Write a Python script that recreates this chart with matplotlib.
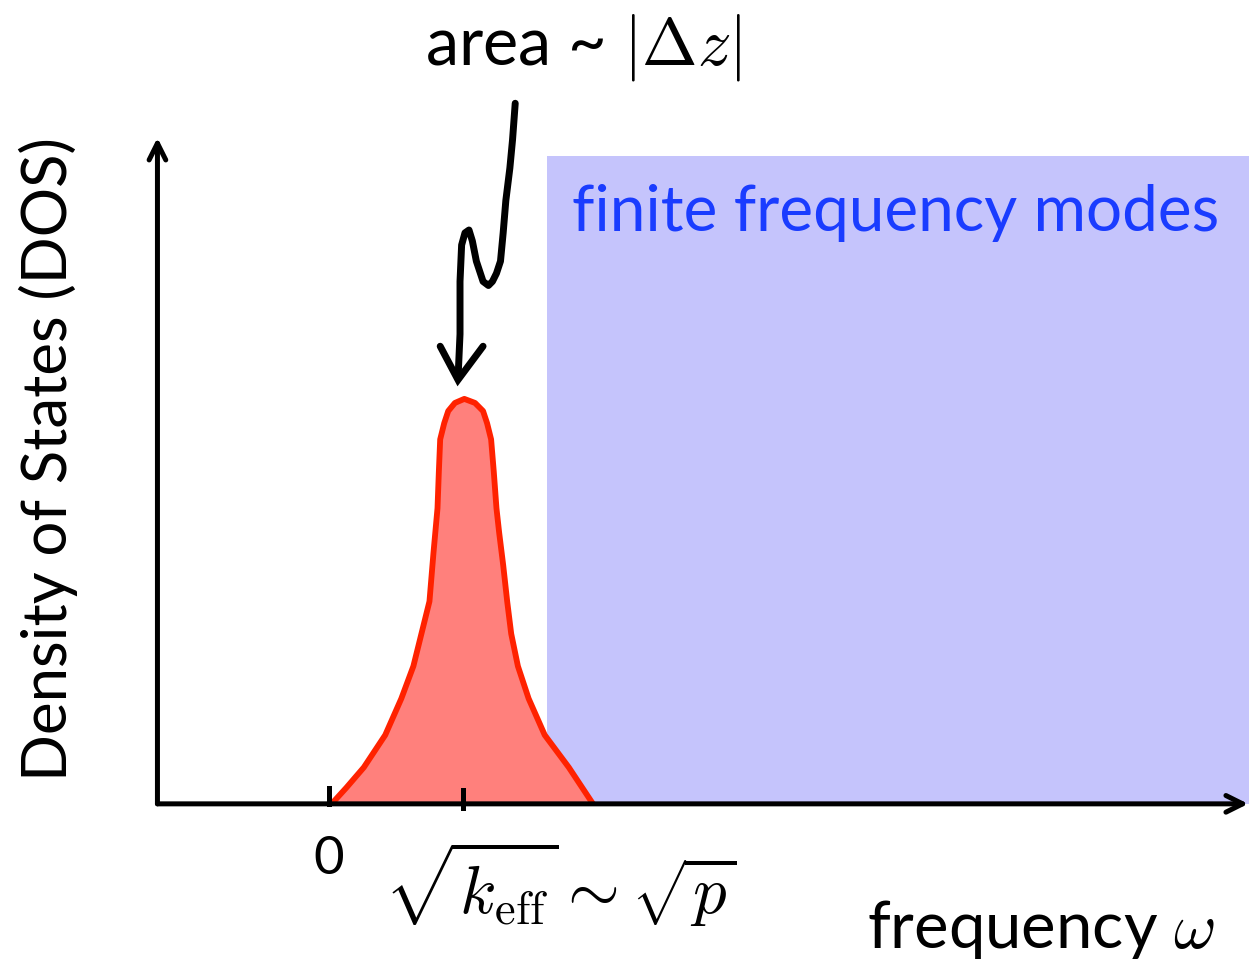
import numpy as np
import matplotlib.pyplot as plt

plt.rcParams['font.family'] = ['Lato', 'DejaVu Sans']
plt.rcParams['mathtext.fontset'] = 'cm'

# low-frequency peak in the DOS, omega in units of sqrt(k_eff)
peak_w = [0.02, 0.13, 0.26, 0.42, 0.54, 0.63, 0.69, 0.75, 0.78, 0.81, 0.82, 0.83,
          0.86, 0.89, 0.94, 1.01, 1.09, 1.15, 1.18, 1.21, 1.23, 1.25, 1.27, 1.30,
          1.33, 1.36, 1.41, 1.49, 1.61, 1.79, 1.87, 1.97]
peak_dos = [0.0, 0.04, 0.09, 0.17, 0.26, 0.34, 0.42, 0.50, 0.62, 0.73, 0.82, 0.90,
            0.94, 0.97, 0.99, 1.0, 0.99, 0.97, 0.94, 0.90, 0.82, 0.73, 0.67, 0.59,
            0.50, 0.42, 0.34, 0.26, 0.17, 0.09, 0.05, 0.0]

# band of finite frequency modes
band_w = [1.63, 6.87]
band_top = 1.60

# hand-drawn pointer to the peak
pointer_w = [1.39, 1.37, 1.35, 1.32, 1.30, 1.28, 1.25, 1.22, 1.19, 1.15, 1.10,
             1.07, 1.045, 1.015, 0.99, 0.978, 0.978, 0.963]
pointer_dos = [1.73, 1.64, 1.57, 1.49, 1.41, 1.34, 1.31, 1.29, 1.28, 1.29, 1.34,
               1.39, 1.417, 1.41, 1.38, 1.29, 1.16, 1.05]
head_w = [0.83, 0.963, 1.15]
head_dos = [1.13, 1.047, 1.13]

tick_w = [0.0, 1.0]
tick_labels = ['0', r'$\sqrt{k_{\rm eff}}\sim\sqrt{p}$']

fig = plt.figure(figsize=(12.49, 9.63), dpi=100)
ax = fig.add_axes([0, 0, 1, 1])
ax.set_xlim(-2.455, 6.866)
ax.set_ylim(-0.393, 1.985)
ax.axis('off')

ax.fill_between(band_w, 0, band_top, color='#c5c4fc', lw=0, zorder=1)
ax.fill_between(peak_w, 0, peak_dos, color='#ff807c', lw=0, zorder=2)
ax.plot(peak_w, peak_dos, color='#ff2200', lw=4.2, zorder=3,
        solid_joinstyle='round', solid_capstyle='butt')

# axes as arrows
arrow_kw = dict(arrowstyle='->,head_length=1.2,head_width=0.6',
                lw=3.6, color='black', shrinkA=0, shrinkB=0)
ax.annotate('', xy=(6.86, 0), xytext=(-1.28, 0), arrowprops=arrow_kw, zorder=4)
ax.annotate('', xy=(-1.28, 1.645), xytext=(-1.28, 0), arrowprops=arrow_kw, zorder=4)

ax.plot([tick_w[0], tick_w[0]], [0, 0.04], color='black', lw=3.6, zorder=4)
ax.plot([tick_w[1], tick_w[1]], [-0.01, 0.035], color='black', lw=3.6, zorder=4)
ax.text(tick_w[0], -0.138, tick_labels[0], fontsize=38, ha='center', va='center')
ax.text(1.724, -0.2, tick_labels[1], fontsize=48, ha='center', va='center')

ax.plot(pointer_w, pointer_dos, color='black', lw=5, solid_capstyle='round',
        solid_joinstyle='round', zorder=5)
ax.plot(head_w, head_dos, color='black', lw=5, solid_capstyle='round',
        solid_joinstyle='miter', zorder=5)

ax.text(0.716, 1.867, r'area ~ $|\Delta z|$', fontsize=48, ha='left', va='center')
ax.text(1.813, 1.459, 'finite frequency modes', fontsize=46, color='#1a3cff',
        ha='left', va='center')
ax.text(6.612, -0.311, r'frequency $\omega$', fontsize=47, ha='right', va='center')
ax.text(-2.097, 0.852, 'Density of States (DOS)', fontsize=44.5, rotation=90,
        ha='center', va='center')

fig.savefig('out.png', dpi=100)
